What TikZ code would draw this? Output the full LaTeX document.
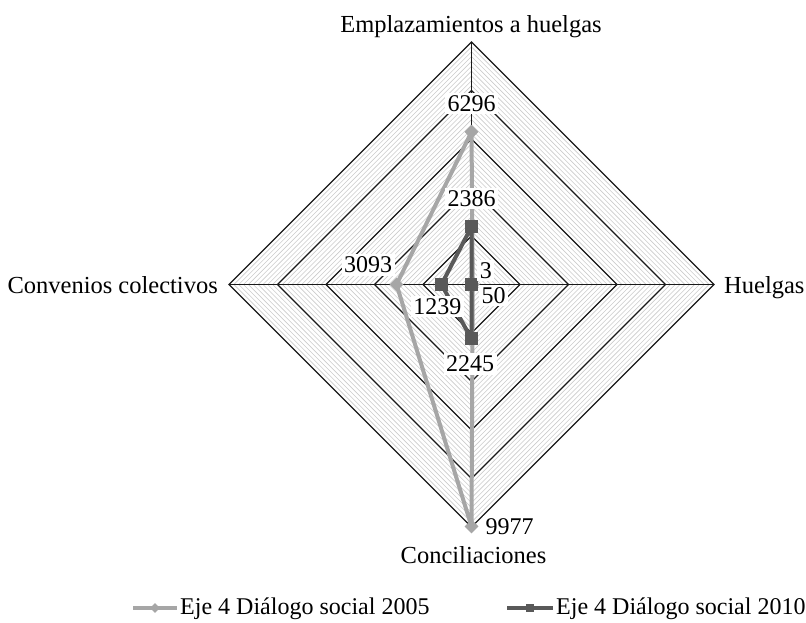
\documentclass[tikz,border=0pt]{standalone}
\usepackage{fontspec}
\setmainfont{Liberation Serif}
\usetikzlibrary{shapes.geometric,calc}
\definecolor{cfive}{HTML}{A6A6A6}
\definecolor{cten}{HTML}{595959}
\definecolor{cminor}{HTML}{CBCBCB}
\begin{document}
\begin{tikzpicture}[x=1pt,y=-1pt,
  minorline/.style={draw=cminor,line width=0.6pt},
  majorline/.style={draw=black!90,line width=1.2pt},
  linefive/.style={draw=cfive,line width=4pt,line join=round},
  lineten/.style={draw=cten,line width=4pt,line join=round},
  mkfive/.style={diamond,fill=cfive,inner sep=0pt,minimum width=14pt,minimum height=14pt},
  mkten/.style={rectangle,fill=cten,inner sep=0pt,minimum size=13pt},
  lgfive/.style={diamond,fill=cfive,inner sep=0pt,minimum width=10pt,minimum height=10pt},
  lgten/.style={rectangle,fill=cten,inner sep=0pt,minimum size=8pt},
  lbl/.style={fill=white,inner sep=2.5pt,font=\fontsize{24}{28}\selectfont},
  axl/.style={inner sep=0pt,font=\fontsize{24.5}{29}\selectfont},
  lgl/.style={inner sep=0pt,font=\fontsize{24}{28}\selectfont}]
\useasboundingbox (0,0) rectangle (806,622);
\coordinate (c) at (471.5,284.5);
\def\R{242.5}
\pgfmathsetmacro\k{\R/10000}
% minor grid
\foreach \i in {1,...,49}{
  \pgfmathsetmacro\r{\i*\R/50}
  \draw[minorline] ($(c)+(0,-\r)$) -- ($(c)+(\r,0)$) -- ($(c)+(0,\r)$) -- ($(c)+(-\r,0)$) -- cycle;
}
% major grid
\foreach \i in {1,...,5}{
  \pgfmathsetmacro\r{\i*\R/5}
  \draw[majorline] ($(c)+(0,-\r)$) -- ($(c)+(\r,0)$) -- ($(c)+(0,\r)$) -- ($(c)+(-\r,0)$) -- cycle;
}
\coordinate (T) at ($(c)+(0,-\R)$);
\coordinate (B) at ($(c)+(0,\R)$);
\coordinate (L) at ($(c)+(-\R,0)$);
\coordinate (Rt) at ($(c)+(\R,0)$);
\draw[majorline] (T) -- (B);
\draw[majorline] (L) -- (Rt);
% data positions
\coordinate (pfe) at ($(c)+(0,-6296*\k)$);
\coordinate (pfh) at ($(c)+(50*\k,0)$);
\coordinate (pfk) at ($(c)+(0,9977*\k)$);
\coordinate (pfv) at ($(c)+(-3093*\k,0)$);
\coordinate (pte) at ($(c)+(0,-2386*\k)$);
\coordinate (pth) at ($(c)+(3*\k,0)$);
\coordinate (ptk) at ($(c)+(0,2245*\k)$);
\coordinate (ptv) at ($(c)+(-1239*\k,0)$);
\draw[linefive] (pfe) -- (pfh) -- (pfk) -- (pfv) -- cycle;
\draw[lineten] (pte) -- (pth) -- (ptk) -- (ptv) -- cycle;
\node[mkfive] (mfe) at (pfe) {};
\node[mkfive] (mfh) at (pfh) {};
\node[mkfive] (mfk) at (pfk) {};
\node[mkfive] (mfv) at (pfv) {};
\node[mkten] (mte) at (pte) {};
\node[mkten] (mth) at (pth) {};
\node[mkten] (mtk) at (ptk) {};
\node[mkten] (mtv) at (ptv) {};
% value labels
\node[lbl] (vfe) at ($(mfe)+(0,-28)$) {6296};
\node[lbl] (vfh) at ($(mfh)+(20.8,11)$) {50};
\node[lbl] (vfk) at ($(mfk)+(38,0)$) {9977};
\node[lbl] (vfv) at ($(mfv)+(-28.5,-19.5)$) {3093};
\node[lbl] (vte) at ($(mte)+(0,-28.5)$) {2386};
\node[lbl] (vth) at ($(mth)+(14.4,-14)$) {3};
\node[lbl] (vtk) at ($(mtk)+(-1.5,25)$) {2245};
\node[lbl] (vtv) at ($(mtv)+(-4,22)$) {1239};
% axis labels
\node[axl,anchor=base] (aT) at (471,32) {Emplazamientos a huelgas};
\node[axl,anchor=base west] (aR) at (724,293) {Huelgas};
\node[axl,anchor=base east] (aL) at (218,293) {Convenios colectivos};
\node[axl,anchor=base] (aB) at (473.5,563) {Conciliaciones};
% legend
\coordinate (lfa) at (133,608);
\coordinate (lfb) at (177,608);
\draw[draw=cfive,line width=3.5pt] (lfa) -- (lfb);
\node[lgfive] (lfm) at ($(lfa)!0.5!(lfb)$) {};
\node[lgl,anchor=base west] (lft) at (180,614) {Eje 4 Diálogo social 2005};
\coordinate (lta) at (507,608);
\coordinate (ltb) at (553,608);
\draw[draw=cten,line width=3.5pt] (lta) -- (ltb);
\node[lgten] (ltm) at ($(lta)!0.5!(ltb)$) {};
\node[lgl,anchor=base west] (ltt) at (556,614) {Eje 4 Diálogo social 2010};
\end{tikzpicture}
\end{document}
